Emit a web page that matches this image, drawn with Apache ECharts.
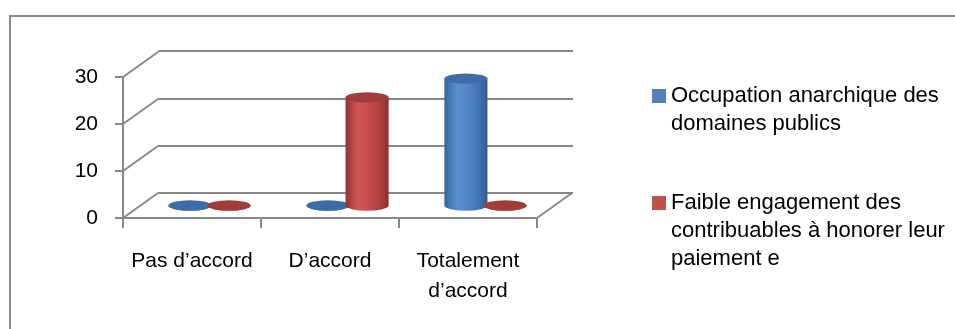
<!DOCTYPE html>
<html>
<head>
<meta charset="utf-8">
<script src="https://cdn.jsdelivr.net/npm/echarts@6/dist/echarts.min.js"></script>
<style>
  html, body { margin: 0; padding: 0; background: #ffffff; }
  #chart { width: 955px; height: 329px; }
</style>
</head>
<body>
<div id="chart"></div>
<script>
// Survey answers on the x axis
const categories = ['Pas d’accord', 'D’accord', 'Totalement\nd’accord'];
// Series names, broken over the lines used in the legend
const seriesNames = [
  'Occupation anarchique des\ndomaines publics',
  'Faible engagement des\ncontribuables à honorer leur\npaiement e'
];
// Counts per answer
const occupationValues = [0, 0, 27];
const engagementValues = [0, 23, 0];
// Value axis
const yMin = 0, yMax = 30, yStep = 10;
const yTicks = [0, 10, 20, 30];

const FONT = '"Liberation Sans", Arial, sans-serif';
const GRID_GRAY = '#888888';
// Perspective offset from the front plane to the back wall
const DX = 35, DY = -25;

const palettes = [
  {
    legend: '#4f81bd',
    top: '#3e6ca6',
    body: [
      [0, '#36629a'], [0.28, '#5a8ed1'], [0.5, '#5588cb'],
      [0.82, '#4170ae'], [1, '#325a8e']
    ]
  },
  {
    legend: '#c0504d',
    top: '#a23c3a',
    body: [
      [0, '#923231'], [0.28, '#d05654'], [0.5, '#ca4f4d'],
      [0.82, '#aa403e'], [1, '#8a2f2e']
    ]
  }
];

function toStops(list) {
  return list.map(s => ({ offset: s[0], color: s[1] }));
}

// One cylinder per data item, placed on the mid-depth plane of the floor
function cylinderRenderer(side, pal) {
  return function (params, api) {
    const idx = api.value(0);
    const val = api.value(1);
    const band = api.size([1, 0])[0];
    const base = api.coord([idx, 0]);
    const head = api.coord([idx, val]);
    const rx = band * 0.156;
    const ry = rx * 0.24;
    const cx = base[0] + side * band * 0.142 + DX / 2;
    const yb = base[1] + DY / 2;
    const yt = head[1] + DY / 2;
    const l = cx - rx, r = cx + rx;
    const bodyPath = `M ${l} ${yt} L ${l} ${yb} A ${rx} ${ry} 0 0 0 ${r} ${yb} L ${r} ${yt} Z`;
    const topPath = `M ${l} ${yt} A ${rx} ${ry} 0 1 0 ${r} ${yt} A ${rx} ${ry} 0 1 0 ${l} ${yt} Z`;
    return {
      type: 'group',
      children: [
        {
          type: 'path',
          shape: { pathData: bodyPath },
          style: {
            fill: {
              type: 'linear', x: 0, y: 0, x2: 1, y2: 0,
              colorStops: toStops(pal.body)
            }
          }
        },
        {
          type: 'path',
          shape: { pathData: topPath },
          style: { fill: pal.top }
        }
      ]
    };
  };
}

// Diagonal edges joining the front value axis to the back wall
function sideEdgeRenderer(params, api) {
  const p = api.coord([0, api.value(0)]);
  const x0 = params.coordSys.x;
  return {
    type: 'line',
    shape: { x1: x0, y1: p[1], x2: x0 + DX, y2: p[1] + DY },
    style: { stroke: GRID_GRAY, lineWidth: 2 }
  };
}

// Right-hand edge of the floor
function floorEdgeRenderer(params, api) {
  const p = api.coord([0, api.value(0)]);
  const x1 = params.coordSys.x + params.coordSys.width;
  return {
    type: 'line',
    shape: { x1: x1, y1: p[1], x2: x1 + DX, y2: p[1] + DY },
    style: { stroke: GRID_GRAY, lineWidth: 2 }
  };
}

// Keep the swatch level with the first line of a wrapped legend label:
// pad the label with empty lines above so the block stays centred on line one.
function legendFormatter(name) {
  const extra = name.split('\n').length - 1;
  return '\n'.repeat(extra) + name;
}

const legendBase = {
  orient: 'vertical',
  left: 652,
  icon: 'rect',
  itemWidth: 14,
  itemHeight: 14,
  itemGap: 0,
  padding: 0,
  selectedMode: false,
  formatter: legendFormatter,
  textStyle: {
    fontFamily: FONT,
    fontSize: 22,
    color: '#000',
    lineHeight: 28
  }
};

const chart = echarts.init(document.getElementById('chart'), null, { renderer: 'canvas' });

chart.setOption({
  animation: false,
  backgroundColor: '#ffffff',
  textStyle: { fontFamily: FONT },
  graphic: [
    {
      type: 'rect',
      shape: { x: 10, y: 16, width: 960, height: 330 },
      style: { fill: 'none', stroke: '#8a8a8a', lineWidth: 2 },
      silent: true
    }
  ],
  legend: [
    Object.assign({}, legendBase, { top: 54, data: [seriesNames[0]] }),
    Object.assign({}, legendBase, { top: 133, data: [seriesNames[1]] })
  ],
  grid: [
    { left: 158, top: 51, width: 415, height: 142 },
    { left: 123, top: 77, width: 414, height: 141 }
  ],
  xAxis: [
    { gridIndex: 0, type: 'category', data: categories, show: false },
    {
      gridIndex: 1,
      type: 'category',
      data: categories,
      boundaryGap: true,
      axisLine: { show: true, lineStyle: { color: GRID_GRAY, width: 2 } },
      axisTick: { show: true, length: 10, lineStyle: { color: GRID_GRAY, width: 2 } },
      axisLabel: {
        margin: 28,
        color: '#000',
        fontFamily: FONT,
        fontSize: 21,
        lineHeight: 30,
        interval: 0
      },
      splitLine: { show: false }
    }
  ],
  yAxis: [
    {
      gridIndex: 0,
      type: 'value',
      min: yMin, max: yMax, interval: yStep,
      axisLine: { show: false },
      axisTick: { show: false },
      axisLabel: { show: false },
      splitLine: { show: true, lineStyle: { color: GRID_GRAY, width: 2 } }
    },
    {
      gridIndex: 1,
      type: 'value',
      min: yMin, max: yMax, interval: yStep,
      axisLine: { show: true, lineStyle: { color: GRID_GRAY, width: 2 } },
      axisTick: { show: true, length: 8, lineStyle: { color: GRID_GRAY, width: 2 } },
      axisLabel: { margin: 25, color: '#000', fontFamily: FONT, fontSize: 21 },
      splitLine: { show: false }
    }
  ],
  series: [
    {
      type: 'custom',
      name: 'sideEdges',
      xAxisIndex: 1, yAxisIndex: 1,
      silent: true,
      renderItem: sideEdgeRenderer,
      data: yTicks.map(v => [v]),
      encode: { y: 0 },
      z: 1
    },
    {
      type: 'custom',
      name: 'floorEdge',
      xAxisIndex: 1, yAxisIndex: 1,
      silent: true,
      renderItem: floorEdgeRenderer,
      data: [[yMin]],
      encode: { y: 0 },
      z: 1
    },
    {
      type: 'custom',
      name: seriesNames[0],
      xAxisIndex: 1, yAxisIndex: 1,
      silent: true,
      itemStyle: { color: palettes[0].legend },
      renderItem: cylinderRenderer(-1, palettes[0]),
      data: occupationValues.map((v, i) => [i, v]),
      encode: { x: 0, y: 1 },
      z: 3
    },
    {
      type: 'custom',
      name: seriesNames[1],
      xAxisIndex: 1, yAxisIndex: 1,
      silent: true,
      itemStyle: { color: palettes[1].legend },
      renderItem: cylinderRenderer(1, palettes[1]),
      data: engagementValues.map((v, i) => [i, v]),
      encode: { x: 0, y: 1 },
      z: 3
    }
  ]
});
</script>
</body>
</html>
